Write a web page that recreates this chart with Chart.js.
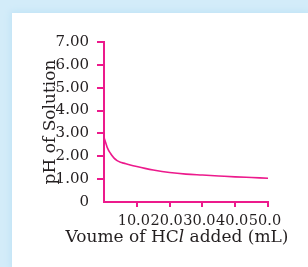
<!DOCTYPE html>
<html>
<head>
<meta charset="utf-8">
<script src="https://cdn.jsdelivr.net/npm/chart.js@4.4.1/dist/chart.umd.min.js"></script>
<style>
    html, body { margin: 0; padding: 0; }
    body { width: 308px; height: 267px; background: #d3ecf9; position: relative; overflow: hidden; }
    .painel { position: absolute; left: 12px; top: 13px; right: 0; bottom: 0; background: #fff; box-shadow: 0 0 6px 2px #c2e4f6; }
    #grafico { position: absolute; left: 0; top: 0; }
</style>
</head>
<body>
<div class="painel"></div>
<canvas id="grafico" width="308" height="267"></canvas>
<script>
// Dados: volume de HCl (mL) e pH da solução
const volumesHCl = [0, 0.5, 1, 2, 3, 4, 5, 6, 8, 10, 12.5, 15, 20, 25, 30, 35, 40, 45, 50];
const valoresPH = [2.82, 2.6, 2.38, 2.12, 1.93, 1.81, 1.74, 1.70, 1.62, 1.55, 1.47, 1.40, 1.29, 1.22, 1.18, 1.14, 1.10, 1.07, 1.04];

// Rótulos dos eixos
const ticksX = [10, 20, 30, 40, 50];
const rotulosX = ['10.0', '20.0', '30.0', '40.0', '50.0'];
const ticksY = [0, 1, 2, 3, 4, 5, 6, 7];
const rotulosY = ['0', '1.00', '2.00', '3.00', '4.00', '5.00', '6.00', '7.00'];
const tituloY = 'pH of Solution';
const tituloX = ['Voume of HC', 'l', ' added (mL)'];

const corRosa = '#ec1a8c';
const corTexto = '#231f20';
const fonte = '"DejaVu Serif", serif';

// Plugin para desenhar o título do eixo X com o "l" em itálico
const tituloEixoX = {
    id: 'tituloEixoX',
    afterDraw(chart) {
        const ctx = chart.ctx;
        const estilos = ['normal', 'italic', 'normal'];
        ctx.save();
        ctx.fillStyle = corTexto;
        ctx.textBaseline = 'alphabetic';
        let largura = 0;
        tituloX.forEach((parte, i) => {
            ctx.font = `${estilos[i]} 17px ${fonte}`;
            largura += ctx.measureText(parte).width;
        });
        const area = chart.chartArea;
        let x = (area.left + area.right) / 2 - 9 - largura / 2;
        tituloX.forEach((parte, i) => {
            ctx.font = `${estilos[i]} 17px ${fonte}`;
            ctx.fillText(parte, x, 242);
            x += ctx.measureText(parte).width;
        });
        ctx.restore();
    }
};

const ctxGrafico = document.getElementById('grafico').getContext('2d');

new Chart(ctxGrafico, {
    type: 'line',
    data: {
        datasets: [{
            data: volumesHCl.map((v, i) => ({ x: v, y: valoresPH[i] })),
            borderColor: corRosa,
            borderWidth: 1.6,
            pointRadius: 0,
            cubicInterpolationMode: 'monotone',
            fill: false
        }]
    },
    options: {
        responsive: false,
        animation: false,
        layout: {
            padding: { top: 42, right: 40, left: 0, bottom: 0 }
        },
        plugins: {
            legend: { display: false },
            tooltip: { enabled: false }
        },
        scales: {
            x: {
                type: 'linear',
                min: 0,
                max: 50,
                afterBuildTicks: scale => {
                    scale.ticks = ticksX.map(v => ({ value: v }));
                },
                afterFit: scale => { scale.height = 65; },
                ticks: {
                    autoSkip: false,
                    maxRotation: 0,
                    padding: 6,
                    labelOffset: -3,
                    color: corTexto,
                    font: { family: fonte, size: 14.5 },
                    callback: (valor) => rotulosX[ticksX.indexOf(valor)]
                },
                grid: {
                    drawOnChartArea: false,
                    drawTicks: true,
                    tickLength: 5,
                    color: corRosa,
                    lineWidth: 2
                },
                border: { color: corRosa, width: 2 }
            },
            y: {
                min: 0,
                max: 7,
                afterBuildTicks: scale => {
                    scale.ticks = ticksY.map(v => ({ value: v }));
                },
                afterFit: scale => { scale.width = 104; },
                ticks: {
                    padding: 8,
                    color: corTexto,
                    font: { family: fonte, size: 15 },
                    callback: (valor) => rotulosY[ticksY.indexOf(valor)]
                },
                grid: {
                    drawOnChartArea: false,
                    drawTicks: true,
                    tickLength: 7,
                    color: ctx => ctx.tick && ctx.tick.value === 0 ? 'rgba(0,0,0,0)' : corRosa,
                    lineWidth: 2
                },
                border: { color: corRosa, width: 2 },
                title: {
                    display: true,
                    text: tituloY,
                    color: corTexto,
                    font: { family: fonte, size: 17 },
                    padding: { top: 40, bottom: 0 }
                }
            }
        }
    },
    plugins: [tituloEixoX]
});
</script>
</body>
</html>
